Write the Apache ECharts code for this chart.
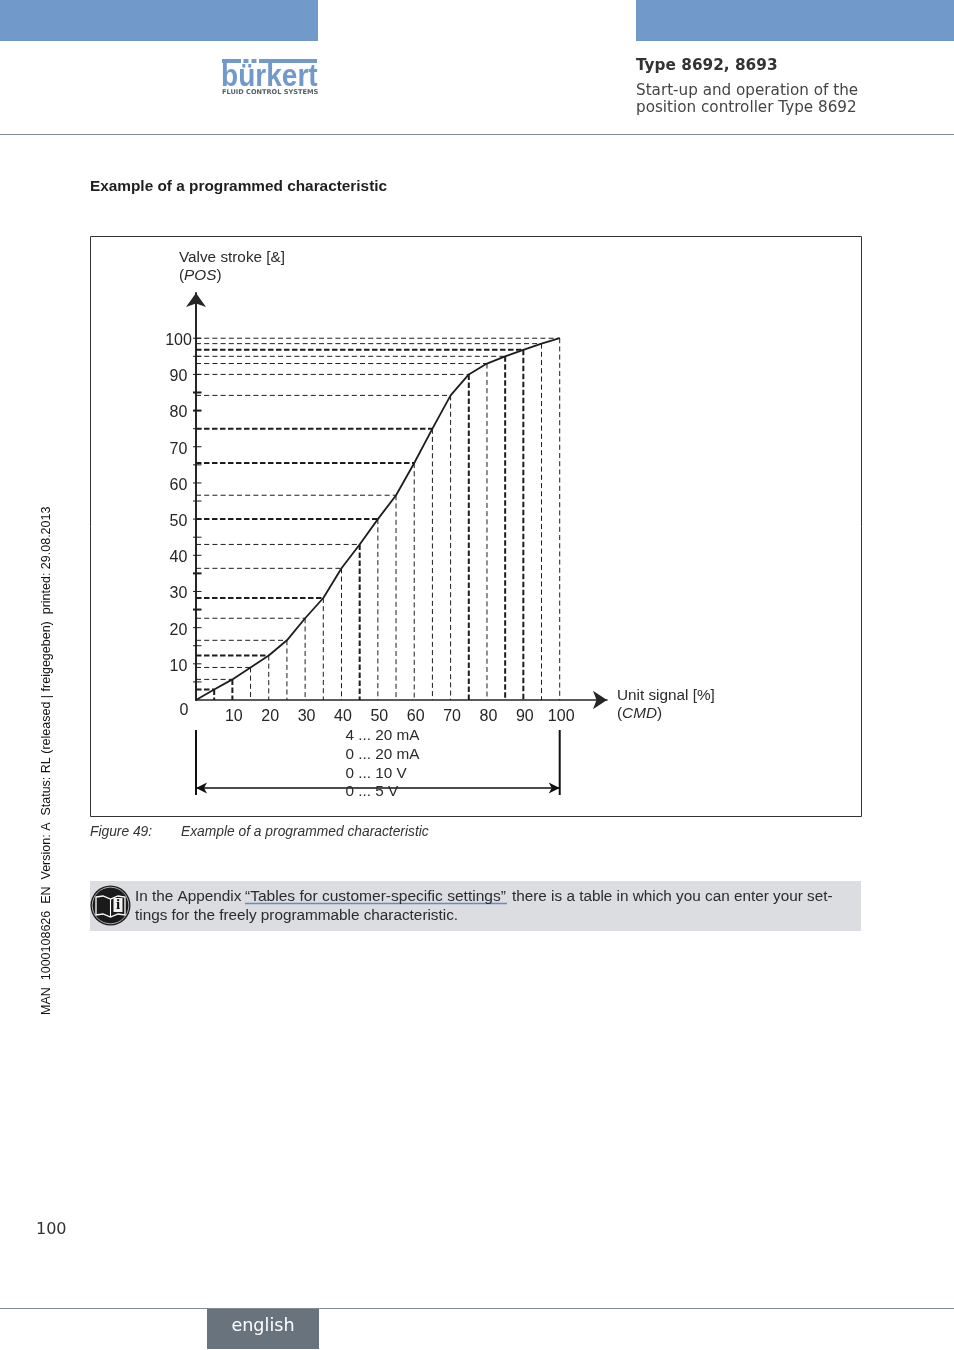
<!DOCTYPE html>
<html><head><meta charset="utf-8">
<style>html,body{margin:0;padding:0;background:#fff}#c{width:954px;height:1350px}</style>
<script src="https://cdn.jsdelivr.net/npm/echarts@6/dist/echarts.min.js"></script>
</head><body><div id="c"></div>
<script>
const cmdValues = [0,5,10,15,20,25,30,35,40,45,50,55,60,65,70,75,80,85,90,95,100];
const posValues = [0,2.9,5.7,9.0,12.3,16.5,22.6,28.2,36.4,43,50,56.6,65.5,75,84.2,90,93,95,96.8,98.5,100];
const heavyHorizontalAtCmd = [5,20,35,50,60,65,90];
const heavyVerticalAtCmd = [5,10,45,75,85,90];
const yTickValues = [5,10,15,20,25,30,35,40,45,50,55,60,65,70,75,80,85,90,95,100];
const heavyYTicks = [25,35,80,85];
const tickLabelValues = [10,20,30,40,50,60,70,80,90,100];
const signalRanges = ['4 ... 20 mA','0 ... 20 mA','0 ... 10 V','0 ... 5 V'];

const INK = '#262626', SANS = '"Liberation Sans", Arial, sans-serif', WIDE = '"DejaVu Sans", sans-serif';
const BLUE = '#7199c9', RULE = '#7f8c94';
const points = cmdValues.map((c,i)=>[c,posValues[i]]);

const chart = echarts.init(document.getElementById('c'),null,{renderer:'canvas',width:954,height:1350});
const fmt = v => tickLabelValues.includes(v) ? String(v) : '';

function dashLine(a,b,heavy){
  return {type:'line',shape:{x1:a[0],y1:a[1],x2:b[0],y2:b[1]},
    style:{stroke:'#1d1d1d',lineWidth:heavy?2:1,lineDash:heavy?[5.5,2.5]:[5,3.2],fill:null}};
}
chart.setOption({
  animation:false,
  backgroundColor:'#fff',
  grid:{left:196,top:293,width:411,height:407,containLabel:false},
  xAxis:{type:'value',min:0,max:113,interval:10,
    axisLine:{onZero:false,lineStyle:{color:INK,width:1.5},symbol:['none','arrow'],symbolSize:[14,14],symbolOffset:[0,0]},
    axisTick:{show:false},splitLine:{show:false},
    axisLabel:{formatter:fmt,color:INK,fontFamily:SANS,fontSize:16,margin:9,padding:[0,0,0,3],showMinLabel:true,showMaxLabel:false}},
  yAxis:{type:'value',min:0,max:112.5,interval:10,
    axisLine:{onZero:false,lineStyle:{color:INK,width:2},symbol:['none','arrow'],symbolSize:[15,14],symbolOffset:[0,0]},
    axisTick:{show:false},splitLine:{show:false},
    axisLabel:{formatter:fmt,color:INK,fontFamily:SANS,fontSize:16,margin:17.5,align:'center',verticalAlign:'top',lineHeight:5,showMaxLabel:false}},
  series:[
    {type:'custom',coordinateSystem:'cartesian2d',silent:true,clip:false,z:2,
     data:points.slice(1),
     renderItem(p,api){
       const c=api.value(0),v=api.value(1),pt=api.coord([c,v]);
       return {type:'group',children:[
         dashLine(api.coord([0,v]),pt,heavyHorizontalAtCmd.includes(c)),
         dashLine(pt,api.coord([c,0]),heavyVerticalAtCmd.includes(c))
       ]};
     }},
    {type:'custom',coordinateSystem:'cartesian2d',silent:true,clip:false,z:3,
     data:yTickValues.map(v=>[0,v]),
     renderItem(p,api){
       const v=api.value(1),pt=api.coord([0,v]);
       return {type:'line',shape:{x1:pt[0]-3,y1:pt[1],x2:pt[0]+5.5,y2:pt[1]},
         style:{stroke:'#1d1d1d',lineWidth:heavyYTicks.includes(v)?2:1}};
     }},
    {type:'line',data:points,symbol:'none',silent:true,z:4,clip:false,
     lineStyle:{color:'#1d1d1d',width:1.8}}
  ]
});

const x0=chart.convertToPixel({xAxisIndex:0},0), x100=chart.convertToPixel({xAxisIndex:0},100);
const y0=chart.convertToPixel({yAxisIndex:0},0);

function T(x,y,text,o={},extra={}){
  return Object.assign({type:'text',x,y:y+1,z:20,silent:true,style:Object.assign({text,fill:'#2b2b2b',font:`15.3px ${SANS}`,verticalAlign:'middle'},o)},extra);
}
function R(x,y,w,h,fill,z=1){return {type:'rect',shape:{x,y,width:w,height:h},style:{fill},z,silent:true};}
function L(x1,y1,x2,y2,stroke,lineWidth=1,z=1){return {type:'line',shape:{x1,y1,x2,y2},style:{stroke,lineWidth},z,silent:true};}

const els=[
  R(0,0,318,41,BLUE),R(636,0,318,41,BLUE),
  L(0,134.5,954,134.5,RULE),L(0,1308.5,954,1308.5,RULE),
  R(207,1309,112,40,'#69737e'),
  T(263,1325,'english',{fill:'#fff',font:`17.6px ${WIDE}`,align:'center'}),
  T(36,1228.5,'100',{font:`16px ${WIDE}`,fill:'#333'}),
  // logo
  R(222,59,19,4,BLUE),R(243.5,59,5,4,BLUE),R(251.5,59,5,4,BLUE),R(259,59,58,4,BLUE),
  T(221,76,'bürkert',{font:`bold 31px ${SANS}`,fill:BLUE},{scaleX:0.905,originX:0,originY:0}),
  T(222,91.3,'FLUID CONTROL SYSTEMS',{font:`bold 6.6px ${WIDE}`,fill:'#56606a'}),
  // header
  T(636,64.8,'Type 8692, 8693',{font:`bold 15.3px ${WIDE}`,fill:'#333'}),
  T(636,90.5,'Start-up and operation of the',{font:`15.2px ${WIDE}`,fill:'#444'}),
  T(636,107.5,'position controller Type 8692',{font:`15.2px ${WIDE}`,fill:'#444'}),
  // section title
  T(90,185.5,'Example of a programmed characteristic',{font:`bold 15.36px ${SANS}`,fill:'#1f1f1f'}),
  // frame
  {type:'rect',shape:{x:90.5,y:236.5,width:771,height:580},style:{fill:null,stroke:'#333',lineWidth:1},z:1,silent:true},
  T(179,256.5,'Valve stroke [&]'),
  T(179,274.5,'({i|POS})',{rich:{i:{font:`italic 15.3px ${SANS}`,fill:'#2b2b2b'}}}),
  T(617,694.5,'Unit signal [%]'),
  T(617,712.5,'({i|CMD})',{rich:{i:{font:`italic 15.3px ${SANS}`,fill:'#2b2b2b'}}}),
  T(x0-12,y0+9.5,'0',{font:`16px ${SANS}`,fill:INK,align:'center'}),
  ...signalRanges.map((s,i)=>T(345.5,735+i*18.7,s)),
  // range bracket
  L(x0,730,x0,795,'#111',2,10),L(x100,730,x100,795,'#111',2,10),
  L(x0,788,x100,788,'#111',1.6,10),
  {type:'polygon',shape:{points:[[x0,788],[x0+11,782.5],[x0+8,788],[x0+11,793.5]]},style:{fill:'#111'},z:10,silent:true},
  {type:'polygon',shape:{points:[[x100,788],[x100-11,782.5],[x100-8,788],[x100-11,793.5]]},style:{fill:'#111'},z:10,silent:true},
  // caption
  T(90,831.5,'Figure 49:',{font:`italic 13.8px ${SANS}`,fill:'#333'}),
  T(181,831.5,'Example of a programmed characteristic',{font:`italic 13.8px ${SANS}`,fill:'#333'}),
  // note
  R(90,881,771,50,'#dcdde0'),
  T(135,895.5,'In the Appendix'),
  T(245,895.5,'“Tables for customer-specific settings”',{font:`15.55px ${SANS}`}),
  L(245,903.5,507,903.5,'#5f8fc8',1.4,5),
  T(512,895.5,'there is a table in which you can enter your set-'),
  T(135,914.5,'tings for the freely programmable characteristic.'),
  // info icon
  {type:'circle',shape:{cx:110.5,cy:905.5,r:20},style:{fill:'#1a1a1a'},z:5,silent:true},
  {type:'circle',shape:{cx:110.5,cy:905.5,r:18.3},style:{fill:null,stroke:'#e8e8e8',lineWidth:0.7},z:6,silent:true},
  {type:'polygon',shape:{points:[[96,897],[103,896],[110.5,899],[118,896],[125,897],[125,915],[118,914],[110.5,917],[103,914],[96,915]]},style:{fill:'#1a1a1a',stroke:'#fff',lineWidth:1.3},z:6,silent:true},
  L(110.5,899,110.5,917,'#fff',1.1,7),
  R(113.5,898,9,14,'#f2f2f2',7),
  T(118,904,'i',{font:`bold 15px "Liberation Serif", serif`,fill:'#111',align:'center'}),
  // margin note
  {type:'text',x:47,y:1015,rotation:Math.PI/2,z:20,silent:true,
   style:{text:'MAN  1000108626  EN  Version: A  Status: RL (released | freigegeben)  printed: 29.08.2013',font:`12.5px ${SANS}`,fill:'#111',verticalAlign:'middle',align:'left'}}
];
chart.setOption({graphic:{elements:els}});
</script></body></html>
